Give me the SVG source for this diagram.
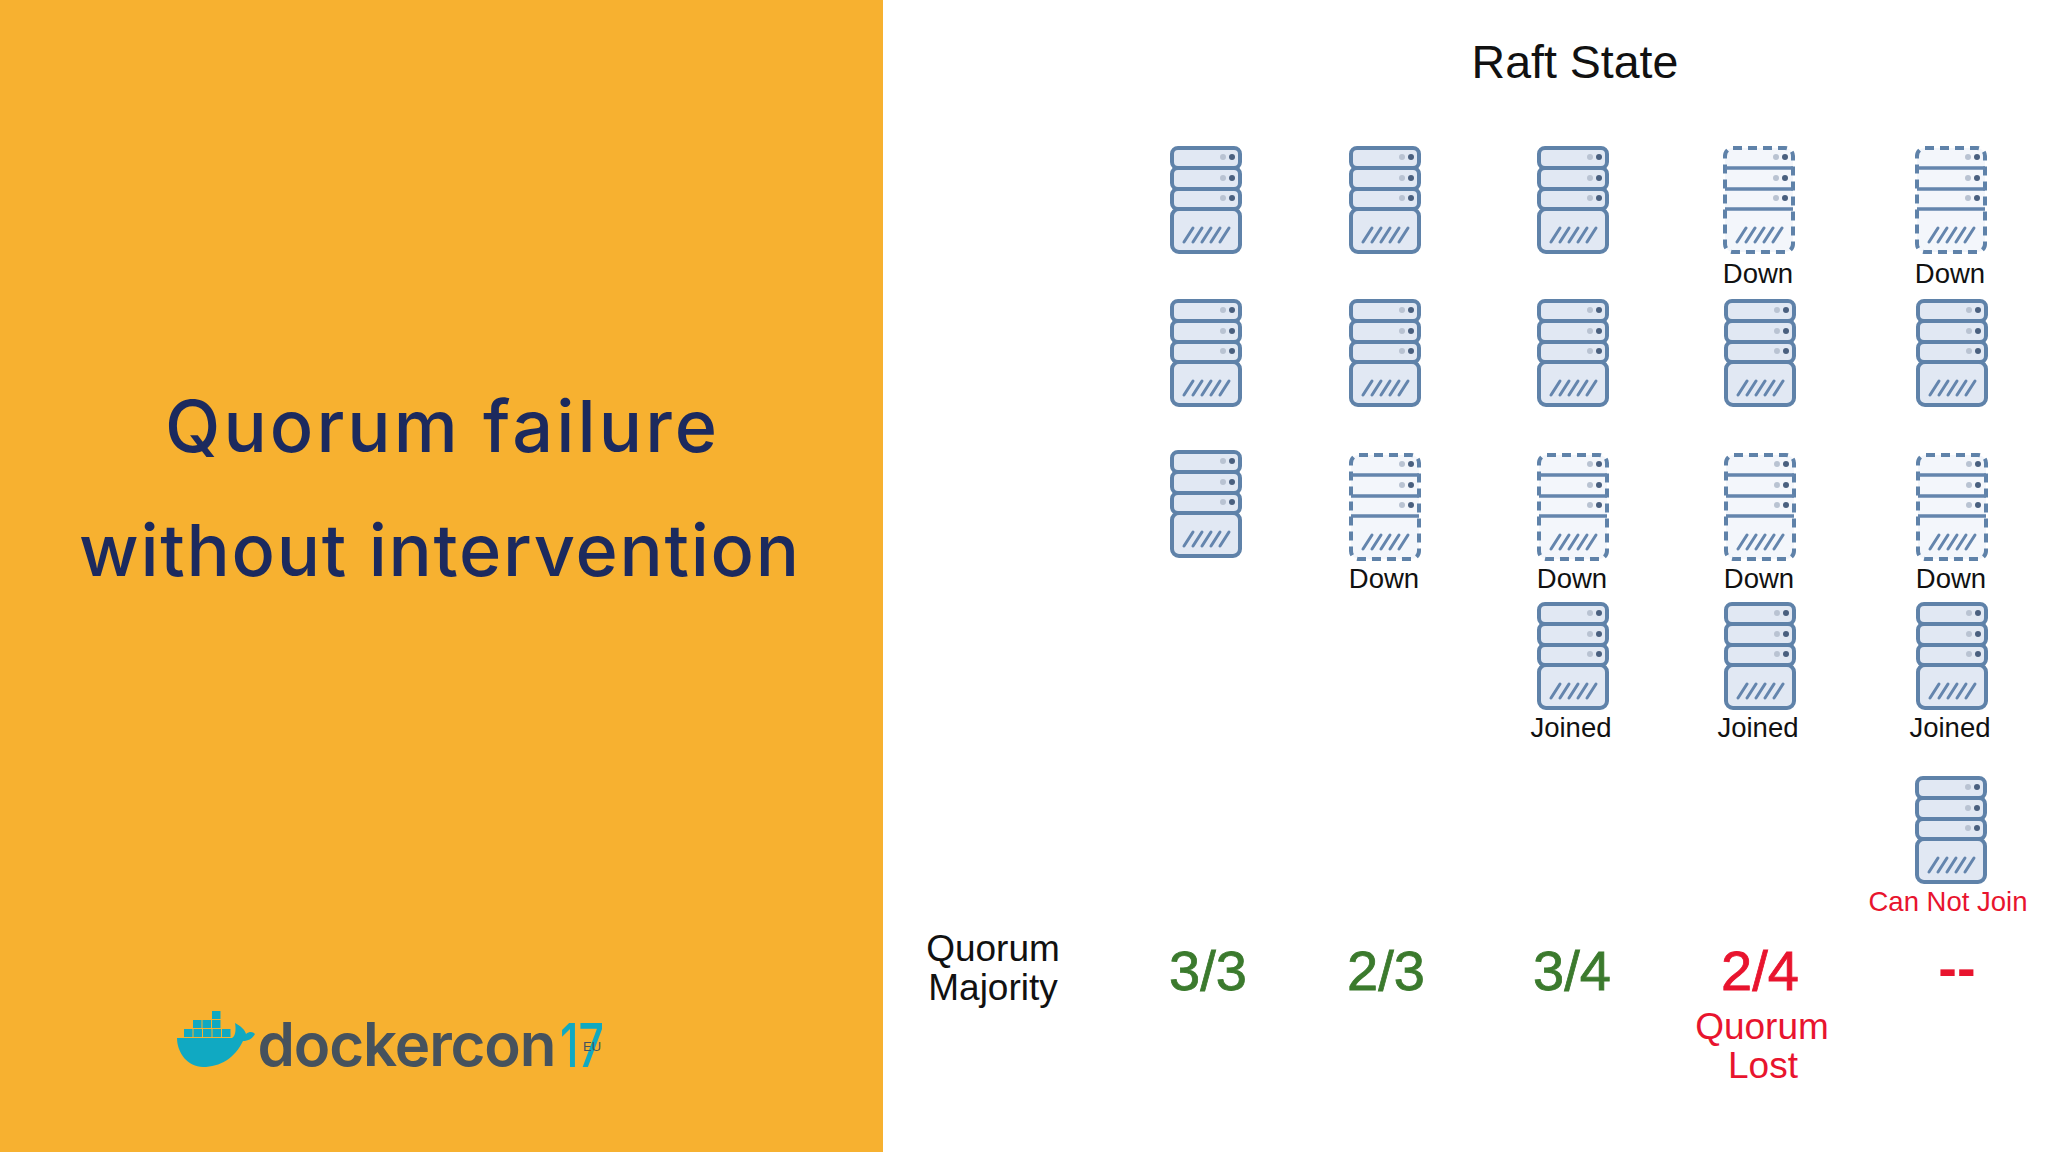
<svg xmlns="http://www.w3.org/2000/svg" width="2048" height="1152" viewBox="0 0 2048 1152">
<style>
text{font-family:"Liberation Sans",Arial,sans-serif;text-anchor:middle}
.t{font-family:Inter,"Liberation Sans",sans-serif;fill:#1c2a5e;font-size:72px;font-weight:500}
.l{font-size:27.5px;fill:#111}
.q{font-size:37px;fill:#111}
.n{font-size:56px;stroke-width:.8}
.g{fill:#3b7a2d;stroke:#3b7a2d}.r{fill:#e8142e}
.a{fill:#e1e8f3;stroke:#5f82a9;stroke-width:4}
.d{fill:#f3f6fb;stroke:#5f82a9;stroke-width:4;stroke-dasharray:9 6}
.s{stroke:#6485ad;stroke-width:3;stroke-linecap:round;fill:none}
.li{stroke:#6485ad;stroke-width:3.5;fill:none}
.w{fill:#10a9c2}
</style>
<defs>
<g id="dots">
<circle cx="53" cy="11" r="3" fill="#b9c3d2"/><circle cx="62" cy="11" r="3" fill="#4a607f"/>
<circle cx="53" cy="32" r="3" fill="#b9c3d2"/><circle cx="62" cy="32" r="3" fill="#4a607f"/>
<circle cx="53" cy="52" r="3" fill="#b9c3d2"/><circle cx="62" cy="52" r="3" fill="#4a607f"/>
<path class="s" d="M14 96l9-14M23 96l9-14M32 96l9-14M41 96l9-14M50 96l9-14"/>
</g>
<g id="solid">
<rect class="a" x="2" y="63" width="68" height="43" rx="7"/>
<rect class="a" x="2" y="2" width="68" height="20" rx="6"/>
<rect class="a" x="2" y="22" width="68" height="21" rx="6"/>
<rect class="a" x="2" y="43" width="68" height="20" rx="6"/>
<use href="#dots"/>
</g>
<g id="down">
<rect class="d" x="2" y="2" width="68" height="104" rx="8"/>
<path class="li" d="M2 22H70M2 43H70M2 63H70"/>
<use href="#dots"/>
</g>
</defs>
<rect width="2048" height="1152" fill="#fff"/>
<rect id="panel" width="883" height="1152" fill="#f7b130"/>
<text class="t" x="441" y="452" textLength="552" lengthAdjust="spacing">Quorum failure</text>
<text class="t" x="439" y="576" textLength="720" lengthAdjust="spacing">without intervention</text>
<g id="logo">
<path class="w" d="M177 1038H232C236 1036 236 1028 235 1023C241 1026 245 1030 246 1034C250 1031 253 1032 255 1034C252 1039 248 1041 243 1041C235 1058 220 1067 203 1067C188 1067 177 1053 177 1038Z"/>
<path class="w" d="M184 1037h8.500v-8h-8.500zM193.500 1037h8.500v-8h-8.500zM203 1037h8.500v-8h-8.500zM212.500 1037h8.500v-8h-8.500zM222 1037h8.500v-8h-8.500zM193 1028h8.500v-8h-8.500zM202.500 1028h8.500v-8h-8.500zM212 1028h8.500v-8h-8.500zM212 1019h8.500v-8h-8.500z"/>
<text x="407" y="1066" font-size="60" style="font-family:Inter,sans-serif" font-weight="600" fill="#46525d" textLength="299" lengthAdjust="spacing">dockercon</text>
<text x="582" y="1067" font-size="61" style="font-family:Inter,sans-serif" font-weight="500" fill="#10a9c2" textLength="44" lengthAdjust="spacingAndGlyphs">17</text>
<text x="592" y="1051" font-size="13" fill="#46525d">EU</text>
</g>
<text x="1575" y="78" font-size="46.500" fill="#111">Raft State</text>
<g id="s11"><use href="#solid" x="1170" y="146"/></g>
<g id="s12"><use href="#solid" x="1170" y="299"/></g>
<g id="s13"><use href="#solid" x="1170" y="450"/></g>
<g id="s21"><use href="#solid" x="1349" y="146"/></g>
<g id="s22"><use href="#solid" x="1349" y="299"/></g>
<g id="s23"><use href="#down" x="1349" y="453"/><text class="l" x="1384" y="588">Down</text></g>
<g id="s31"><use href="#solid" x="1537" y="146"/></g>
<g id="s32"><use href="#solid" x="1537" y="299"/></g>
<g id="s33"><use href="#down" x="1537" y="453"/><text class="l" x="1572" y="588">Down</text></g>
<g id="s34"><use href="#solid" x="1537" y="602"/><text class="l" x="1571" y="737">Joined</text></g>
<g id="s41"><use href="#down" x="1723" y="146"/><text class="l" x="1758" y="283">Down</text></g>
<g id="s42"><use href="#solid" x="1724" y="299"/></g>
<g id="s43"><use href="#down" x="1724" y="453"/><text class="l" x="1759" y="588">Down</text></g>
<g id="s44"><use href="#solid" x="1724" y="602"/><text class="l" x="1758" y="737">Joined</text></g>
<g id="s51"><use href="#down" x="1915" y="146"/><text class="l" x="1950" y="283">Down</text></g>
<g id="s52"><use href="#solid" x="1916" y="299"/></g>
<g id="s53"><use href="#down" x="1916" y="453"/><text class="l" x="1951" y="588">Down</text></g>
<g id="s54"><use href="#solid" x="1916" y="602"/><text class="l" x="1950" y="737">Joined</text></g>
<g id="s55"><use href="#solid" x="1915" y="776"/><text class="l r" x="1948" y="911">Can Not Join</text></g>
<text class="q" x="993" y="961">Quorum</text>
<text class="q" x="993" y="1000">Majority</text>
<text class="n g" x="1208" y="990">3/3</text>
<text class="n g" x="1386" y="990">2/3</text>
<text class="n g" x="1572" y="990">3/4</text>
<text class="n r" x="1760" y="990" stroke="#e8142e">2/4</text>
<text class="n r" x="1957" y="987" font-weight="700">--</text>
<text class="q r" x="1762" y="1039">Quorum</text>
<text class="q r" x="1763" y="1078">Lost</text>
</svg>
